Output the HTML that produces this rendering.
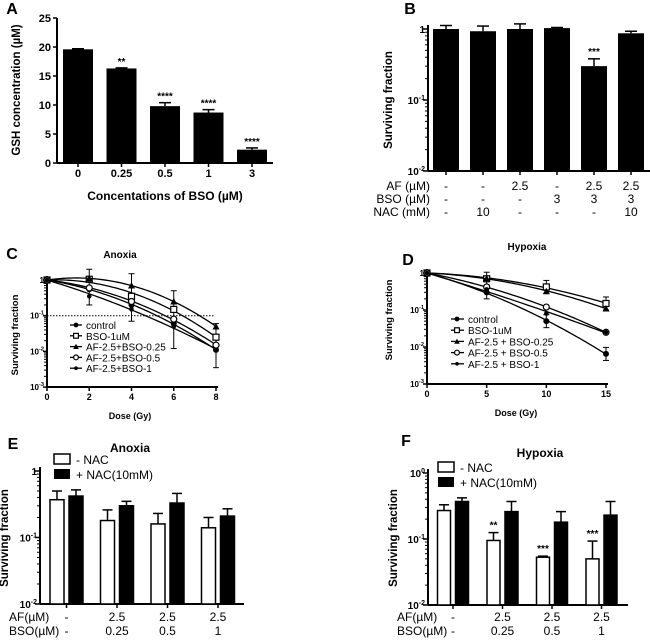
<!DOCTYPE html>
<html><head><meta charset="utf-8">
<style>
html,body{margin:0;padding:0;background:#fff;}
svg{display:block;font-family:"Liberation Sans",Arial,sans-serif;}
text{fill:#000;}
</style></head>
<body>
<svg id="fig" width="650" height="641" viewBox="0 0 650 641" xmlns="http://www.w3.org/2000/svg"></svg>
<script>
// ---------- Panel A data ----------
const aCats = ["0","0.25","0.5","1","3"];
const aVals = [19.6, 16.3, 9.8, 8.7, 2.3];
const aErr = [0.1, 0.1, 0.6, 0.5, 0.3];
const aStars = ["", "**", "****", "****", "****"];
const aTicks = [0,5,10,15,20,25];
// ---------- Panel B data ----------
const bVals = [1.0, 0.93, 1.0, 1.03, 0.30, 0.87];
const bErrTop = [1.12, 1.10, 1.18, 1.05, 0.38, 0.93];
const bStars = ["","","","","***",""];
const bAF = ["-","-","2.5","-","2.5","2.5"];
const bBSO = ["-","-","-","3","3","3"];
const bNAC = ["-","10","-","-","-","10"];
// ---------- Panel C data ----------
const cDoses = [0,2,4,6,8];
const cXTicks = [0,2,4,6,8];
const cNames = ["control","BSO-1uM","AF-2.5+BSO-0.25","AF-2.5+BSO-0.5","AF-2.5+BSO-1"];
const cControl = [1, 0.55, 0.20, 0.06, 0.011];
const cBSO = [1, 1.05, 0.35, 0.15, 0.025];
const cAF025 = [1, 1.1, 0.7, 0.25, 0.05];
const cAF05 = [1, 0.6, 0.25, 0.08, 0.015];
const cAF1 = [1, 0.35, 0.15, 0.05, 0.011];
const cErrHi = [1.2, 2.0, 1.5, 0.5, 0.06];
const cErrLo = [0.9, 0.2, 0.07, 0.012, 0.0035];
// ---------- Panel D data ----------
const dDoses = [0,5,10,15];
const dXTicks = [0,5,10,15];
const dNames = ["control","BSO-1uM","AF-2.5 + BSO-0.25","AF-2.5 + BSO-0.5"," AF-2.5 + BSO-1"];
const dControl = [1, 0.3, 0.05, 0.0065];
const dBSO = [1, 0.7, 0.42, 0.15];
const dAF025 = [1, 0.72, 0.32, 0.11];
const dAF05 = [1, 0.42, 0.12, 0.025];
const dAF1 = [1, 0.36, 0.08, 0.025];
// ---------- Panel E data ----------
const eAF = ["-","2.5","2.5","2.5"];
const eBSO = ["-","0.25","0.5","1"];
const eNo = [0.37, 0.18, 0.16, 0.14];
const eNoErr = [0.50, 0.26, 0.23, 0.20];
const eNac = [0.42, 0.30, 0.33, 0.21];
const eNacErr = [0.52, 0.35, 0.46, 0.27];
// ---------- Panel F data ----------
const fAF = ["-","2.5","2.5","2.5"];
const fBSO = ["-","0.25","0.5","1"];
const fNo = [0.27, 0.095, 0.053, 0.05];
const fNoErr = [0.33, 0.125, 0.055, 0.093];
const fNac = [0.37, 0.26, 0.18, 0.23];
const fNacErr = [0.42, 0.37, 0.26, 0.37];
const fStars = ["","**","***","***"];

const NS="http://www.w3.org/2000/svg";
const svg=document.getElementById('fig');
function el(tag,attrs,parent){const e=document.createElementNS(NS,tag);for(const k in attrs)e.setAttribute(k,attrs[k]);(parent||svg).appendChild(e);return e;}
function txt(x,y,s,size,anchor,bold,parent){const t=el('text',{x:x,y:y,'font-size':size,'text-anchor':anchor||'middle'},parent);if(bold)t.setAttribute('font-weight','bold');t.textContent=s;return t;}
function sup(x,y,base,exp,size,anchor,bold){const t=el('text',{x:x,y:y,'font-size':size,'text-anchor':anchor||'end'});if(bold)t.setAttribute('font-weight','bold');t.appendChild(document.createTextNode(base));const s=document.createElementNS(NS,'tspan');s.setAttribute('dy',-4);s.setAttribute('font-size',size*0.7);s.textContent=exp;t.appendChild(s);return t;}
function line(x1,y1,x2,y2,w,parent){return el('line',{x1:x1,y1:y1,x2:x2,y2:y2,stroke:'#000','stroke-width':w||1.5},parent);}
function logScale(y1,yDec,decTop){return v=>y1+(decTop-Math.log10(v))*yDec;}
function rotTitle(x,y,s,size){const t=txt(x,y,s,size,'middle',true);t.setAttribute('transform','rotate(-90 '+x+' '+y+')');return t;}
function logMinor(ax,yScale,dTop,dBot,g){for(let d=dBot;d<dTop;d++){for(let m=2;m<=9;m++){const y=yScale(m*Math.pow(10,d));line(ax-3,y,ax,y,1,g);}}}

// ================= Panel A =================
(function(){
 const g=el('g',{});
 const L=txt(12,14,"A",16,'middle',true);
 const y0=163,y25=18,ax=57,xEnd=273;
 const ys=v=>y0-(v/25)*(y0-y25);
 const xs=i=>78+i*43.5;
 line(ax,y25,ax,y0,2,g);line(ax,y0,xEnd,y0,2,g);
 aTicks.forEach(t=>{line(ax-4,ys(t),ax,ys(t),1.5,g);const tl=txt(ax-6,ys(t)+4,String(t),11,'end',true,g);});
 aVals.forEach((v,i)=>{
  const r=el('rect',{x:xs(i)-15,y:ys(v),width:30,height:y0-ys(v),fill:'#000'},g);
  
  const top=ys(v+aErr[i]);line(xs(i),ys(v),xs(i),top,1.5,g);line(xs(i)-6,top,xs(i)+6,top,1.5,g);
  line(xs(i),y0,xs(i),y0+4,1.5,g);
  const c=txt(xs(i),177,aCats[i],11,'middle',true,g);
  if(aStars[i]){const s=txt(xs(i),top-3,aStars[i],10,'middle',true,g);}
 });
 const xt=txt(165,200,"Concentations of BSO (µM)",12,'middle',true,g);
 const yt=rotTitle(20,90,"GSH concentration (µM)",11.5);
})();

// ================= Panel B =================
(function(){
 const g=el('g',{});
 const L=txt(410,14,"B",16,'middle',true);
 const ax=428,ys=logScale(29,71,0),yb=171;
 line(ax,25,ax,yb,2,g);line(ax,yb,650,yb,2,g);
 logMinor(ax,ys,0,-2,g);
 [[0,'1',''],[-1,'10','-1'],[-2,'10','-2']].forEach(d=>{const y=ys(Math.pow(10,d[0]));line(ax-5,y,ax,y,1.5,g);const t=d[2]?sup(ax-3,y+4,d[1],d[2],10,'end',true):txt(ax-3,y+4,d[1],10,'end',true);});
 const xs=i=>446+i*37;
 bVals.forEach((v,i)=>{
  const r=el('rect',{x:xs(i)-13,y:ys(v),width:26,height:yb-ys(v),fill:'#000'},g);
  
  const top=ys(bErrTop[i]);line(xs(i),ys(v),xs(i),top,1.5,g);line(xs(i)-6,top,xs(i)+6,top,1.5,g);
  line(xs(i),yb,xs(i),yb+4,1.5,g);
  [[bAF,190],[bBSO,203],[bNAC,216]].forEach(rw=>{const t=txt(xs(i),rw[1],rw[0][i],12,'middle',false,g);});
  if(bStars[i]){const s=txt(xs(i),top-4,bStars[i],10,'middle',true,g);}
 });
 [["AF (µM)",190],["BSO (µM)",203],["NAC (mM)",216]].forEach(r=>{const t=txt(430,r[1],r[0],12,'end',false,g);});
 const yt=rotTitle(392,100,"Surviving fraction",11.5);
})();

// ---------- curve helpers ----------
// linear-quadratic fit: ln S = -a D - b D^2 (least squares through origin)
function lqFit(doses,vals){let s2=0,s3=0,s4=0,r1=0,r2=0;doses.forEach((D,i)=>{const l=Math.log(vals[i]);s2+=D*D;s3+=D*D*D;s4+=D*D*D*D;r1+=-D*l;r2+=-D*D*l;});const det=s2*s4-s3*s3;return [(r1*s4-r2*s3)/det,(s2*r2-s3*r1)/det];}
function lqPath(doses,vals,xs,ys){const ab=lqFit(doses,vals);const dMax=doses[doses.length-1];let d='';for(let k=0;k<=60;k++){const D=dMax*k/60;const S=Math.exp(-ab[0]*D-ab[1]*D*D);d+=(k?' L':'M')+xs(D).toFixed(2)+','+ys(S).toFixed(2);}return d;}
function marker(type,x,y,g,sc){sc=sc||1;
 if(type==='fc')return el('circle',{cx:x,cy:y,r:3*sc,fill:'#000'},g);
 if(type==='os')return el('rect',{x:x-3*sc,y:y-3*sc,width:6*sc,height:6*sc,fill:'#fff',stroke:'#000','stroke-width':1.2},g);
 if(type==='tr')return el('polygon',{points:(x)+','+(y-3.5*sc)+' '+(x-3.5*sc)+','+(y+3*sc)+' '+(x+3.5*sc)+','+(y+3*sc),fill:'#000'},g);
 if(type==='oc')return el('circle',{cx:x,cy:y,r:3*sc,fill:'#fff',stroke:'#000','stroke-width':1.2},g);
 return el('circle',{cx:x,cy:y,r:2.3*sc,fill:'#000'},g);
}
const mTypes=['fc','os','tr','oc','sc'];

// ================= Panel C =================
(function(){
 const g=el('g',{});
 const L=txt(12,259,"C",16,'middle',true);
 const t=txt(120,258,"Anoxia",10,'middle',true,g);
 const ax=47,yb=387,ys=logScale(280,35.7,0),xs=d=>ax+d*(216-ax)/8;
 line(ax,276,ax,yb,2,g);line(ax,yb,218,yb,2,g);
 logMinor(ax,ys,0,-3,g);
 [[0,'1',''],[-1,'10','-1'],[-2,'10','-2'],[-3,'10','-3']].forEach(d=>{const y=ys(Math.pow(10,d[0]));line(ax-4,y,ax,y,1.5,g);const tk=d[2]?sup(ax-3,y+3,d[1],d[2],8,'end',true):txt(ax-3,y+3,d[1],8,'end',true);});
 cXTicks.forEach(v=>{line(xs(v),yb,xs(v),yb+4,1.5,g);const tk=txt(xs(v),400,String(v),9,'middle',true,g);});
 const ref=el('line',{x1:ax,y1:ys(0.1),x2:215,y2:ys(0.1),stroke:'#000','stroke-width':1,'stroke-dasharray':'1.5,1.5'},g);
 [cControl,cBSO,cAF025,cAF05,cAF1].forEach((s,k)=>{
  const p=el('path',{d:lqPath(cDoses,s,xs,ys),fill:'none',stroke:'#000','stroke-width':1.3},g);
  s.forEach((v,i)=>{const px=xs(cDoses[i]),py=ys(v);
   if(k===0){const hi=ys(cErrHi[i]),lo=ys(cErrLo[i]);line(px,hi,px,lo,1,g);line(px-3,hi,px+3,hi,1,g);line(px-3,lo,px+3,lo,1,g);}
   const m=marker(mTypes[k],px,py,g);});
 });
 cNames.forEach((n,k)=>{const y=325+k*10.8;line(70,y,82,y,1.3,g);marker(mTypes[k],76,y,g,0.8);const lt=txt(86,y+4,n,10,'start',false,g);});
 const xt=txt(130,419,"Dose (Gy)",9,'middle',true,g);
 const yt=rotTitle(18,335,"Surviving fraction",9.5);
})();

// ================= Panel D =================
(function(){
 const g=el('g',{});
 const L=txt(408,265,"D",16,'middle',true);
 const t=txt(527,250,"Hypoxia",10,'middle',true,g);
 const ax=427,yb=384,ys=logScale(273,37,0),xs=d=>ax+d*(606-ax)/15;
 line(ax,269,ax,yb,2,g);line(ax,yb,608,yb,2,g);
 logMinor(ax,ys,0,-3,g);
 [[0,'1',''],[-1,'10','-1'],[-2,'10','-2'],[-3,'10','-3']].forEach(d=>{const y=ys(Math.pow(10,d[0]));line(ax-4,y,ax,y,1.5,g);const tk=d[2]?sup(ax-3,y+3,d[1],d[2],8,'end',true):txt(ax-3,y+3,d[1],8,'end',true);});
 dXTicks.forEach(v=>{line(xs(v),yb,xs(v),yb+4,1.5,g);const tk=txt(xs(v),397,String(v),9,'middle',true,g);});
 [dControl,dBSO,dAF025,dAF05,dAF1].forEach((s,k)=>{
  const p=el('path',{d:lqPath(dDoses,s,xs,ys),fill:'none',stroke:'#000','stroke-width':1.3},g);
  s.forEach((v,i)=>{const px=xs(dDoses[i]),py=ys(v);
   if(i>0&&(k===0||k===1)){const hi=ys(v*1.5),lo=ys(v/1.5);line(px,hi,px,lo,1,g);line(px-3,hi,px+3,hi,1,g);line(px-3,lo,px+3,lo,1,g);}
   const m=marker(mTypes[k],px,py,g);});
 });
 dNames.forEach((n,k)=>{const y=319+k*11.2;line(451,y,464,y,1.3,g);marker(mTypes[k],457,y,g,0.8);const lt=txt(468,y+4,n,10,'start',false,g);});
 const xt=txt(516,416,"Dose (Gy)",9,'middle',true,g);
 const yt=rotTitle(392,320,"Surviving fraction",9.5);
})();

// ================= Panels E & F =================
function groupedPanel(o){
 const g=el('g',{});
 const L=txt(o.lx,o.ly,o.label,16,'middle',true);
 const t=txt(o.tx,o.ty,o.title,12,'middle',true,g);
 const ax=o.ax,yb=o.yb,ys=logScale(o.y1,o.dec,0);
 line(ax,o.y1-4,ax,yb,2,g);line(ax,yb,o.xEnd,yb,2,g);
 logMinor(ax,ys,0,-2,g);
 [[0,o.topLbl[0],o.topLbl[1]],[-1,'10','-1'],[-2,'10','-2']].forEach(d=>{const y=ys(Math.pow(10,d[0]));line(ax-5,y,ax,y,1.5,g);const tk=d[2]?sup(ax-3,y+4,d[1],d[2],10,'end',true):txt(ax-3,y+4,d[1],10,'end',true);});
 const gc=i=>o.gx0+i*o.gstep;
 o.no.forEach((v,i)=>{
  const c=gc(i);
  [[v,o.noErr[i],-1,'#fff'],[o.nac[i],o.nacErr[i],1,'#000']].forEach((b,j)=>{
   const bx=j===0?c-o.gap/2-o.bw:c+o.gap/2;const cx=bx+o.bw/2;
   const top=ys(b[1]);line(cx,ys(b[0]),cx,top,1.5,g);line(cx-5,top,cx+5,top,1.5,g);
   const r=el('rect',{x:bx,y:ys(b[0]),width:o.bw,height:yb-ys(b[0]),fill:b[3],stroke:'#000','stroke-width':1.5},g);
   
   if(j===0&&o.stars&&o.stars[i]){const s=txt(cx,top-4,o.stars[i],10,'middle',true,g);}
  });
  line(c,yb,c,yb+4,1.5,g);
  const a=txt(c,621,o.af[i],12,'middle',false,g);
  const b=txt(c,635,o.bso[i],12,'middle',false,g);
 });
 const ra=txt(o.rlx,621,"AF(µM)",12,'start',false,g);
 const rb=txt(o.rlx,635,"BSO(µM)",12,'start',false,g);
 const l1=el('rect',{x:o.legx,y:o.legy-5,width:16,height:10,fill:'#fff',stroke:'#000','stroke-width':1.5},g);
 const l2=el('rect',{x:o.legx,y:o.legy+10,width:16,height:10,fill:'#000'},g);
 const t1=txt(o.legx+22,o.legy+5,"- NAC",12,'start',false,g);
 const t2=txt(o.legx+22,o.legy+20,"+ NAC(10mM)",12,'start',false,g);
 const yt=rotTitle(o.ytx,538,"Surviving fraction",11.5);
}
groupedPanel({name:'panel-e',label:'E',lx:13,ly:449,title:'Anoxia',tx:130,ty:452,ax:40,yb:604,y1:471,dec:66.5,xEnd:244,topLbl:['1',''],
 gx0:66.5,gstep:50.5,bw:14,gap:5,no:eNo,noErr:eNoErr,nac:eNac,nacErr:eNacErr,af:eAF,bso:eBSO,rlx:9,legx:54,legy:459,ytx:8});
groupedPanel({name:'panel-f',label:'F',lx:406,ly:446,title:'Hypoxia',tx:540,ty:457,ax:428,yb:605,y1:473,dec:66,xEnd:628,topLbl:['10','0'],
 gx0:453,gstep:49.5,bw:13,gap:5,no:fNo,noErr:fNoErr,nac:fNac,nacErr:fNacErr,af:fAF,bso:fBSO,stars:fStars,rlx:397,legx:438,legy:467,ytx:397});
</script>
</body></html>
